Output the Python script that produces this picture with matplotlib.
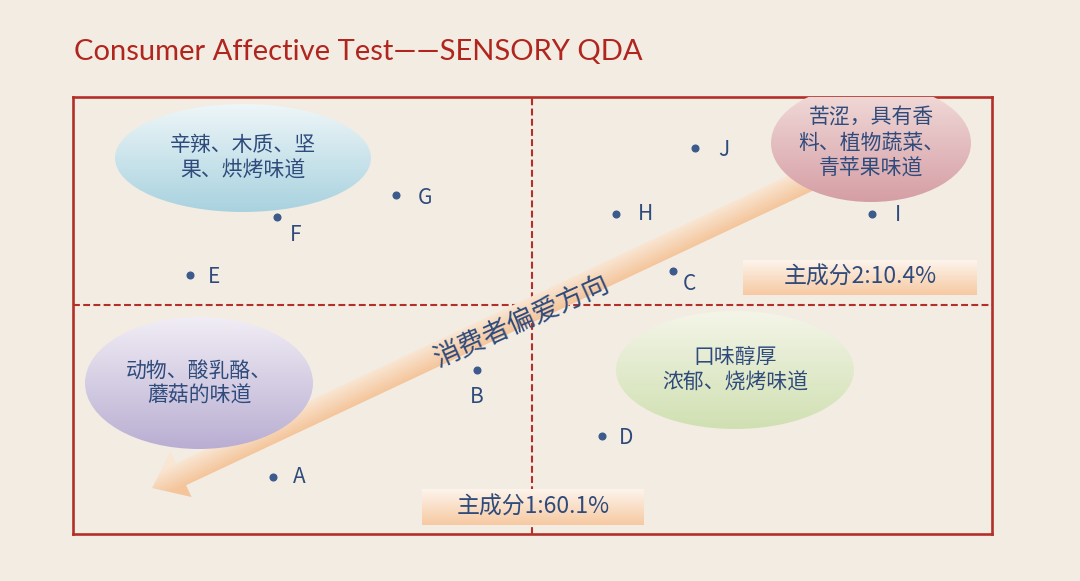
"""Consumer affective test -- sensory QDA preference map (PC1 vs PC2)."""

import numpy as np
import matplotlib
matplotlib.use("Agg")
import matplotlib.pyplot as plt
from matplotlib.patches import Ellipse, Rectangle, FancyArrow
from matplotlib.colors import LinearSegmentedColormap

plt.rcParams["font.family"] = ["Noto Sans CJK SC", "DejaVu Sans"]

# sample scores on the two principal components
samples = ["A", "B", "C", "D", "E", "F", "G", "H", "I", "J"]
pc1 = [-2.59, -0.55, 1.41, 0.70, -3.42, -2.55, -1.36, 0.84, 3.40, 1.63]
pc2 = [-1.72, -0.65, 0.34, -1.31, 0.30, 0.88, 1.10, 0.91, 0.91, 1.57]

# flavour clusters
cluster_text = ["辛辣、木质、坚\n果、烘烤味道",
                "苦涩，具有香\n料、植物蔬菜、\n青苹果味道",
                "动物、酸乳酪、\n蘑菇的味道",
                "口味醇厚\n浓郁、烧烤味道"]
cluster_xy = [(-2.89, 1.47), (3.39, 1.62), (-3.33, -0.78), (2.03, -0.65)]
cluster_wh = [(2.56, 1.08), (2.00, 1.18), (2.28, 1.32), (2.38, 1.18)]
cluster_colors = [("#eef6f8", "#a8d2df"), ("#f3dedc", "#d59ea5"),
                  ("#f1edf5", "#b9aed2"), ("#f4f5e8", "#d0e0b2")]

pc1_label = "主成分1:60.1%"
pc2_label = "主成分2:10.4%"
pref_label = "消费者偏爱方向"

BG = "#f3ece2"
RED = "#b3302a"
BLUE = "#2f4b7c"
W = "medium"

# label offsets (pixels) relative to each point
offsets = {"A": (26, 0), "B": (0, -27), "C": (16, -13), "D": (24, -2),
           "E": (24, -2), "F": (19, -18), "G": (29, -3), "H": (29, 0),
           "I": (26, -1), "J": (29, -2)}

XLIM = (-4.59, 4.60)
YLIM = (-2.29, 2.08)


def grad_fill(ax, patch, extent, c_low, c_high, zorder, values=None):
    """Fill a patch with a bottom-to-top gradient (or a custom value grid)."""
    patch.set_facecolor("none")
    patch.set_edgecolor("none")
    patch.set_clip_on(False)
    ax.add_patch(patch)
    cmap = LinearSegmentedColormap.from_list("g", [c_low, c_high])
    if values is None:
        values = np.linspace(0, 1, 256).reshape(-1, 1)
    im = ax.imshow(values, cmap=cmap, extent=extent, origin="lower",
                   aspect="auto", zorder=zorder, vmin=0, vmax=1,
                   interpolation="bilinear")
    im.set_clip_path(patch)
    im.set_clip_box(None)
    return im


fig = plt.figure(figsize=(10.8, 5.81), dpi=100, facecolor=BG)
ax = fig.add_axes([73 / 1080, 47 / 581, 919 / 1080, 437 / 581])
ax.set_facecolor(BG)
for s in ax.spines.values():
    s.set_color(RED)
    s.set_linewidth(1.9)
ax.set_xticks([])
ax.set_yticks([])

ax.axhline(0, color=RED, lw=1.5, ls=(0, (3.3, 1.6)), zorder=1)
ax.axvline(0, color=RED, lw=1.5, ls=(0, (3.3, 1.6)), zorder=1)

# preference arrow
tail = np.array([3.18, 1.45])
tip = np.array([-3.80, -1.83])
d = tip - tail
arrow = FancyArrow(tail[0], tail[1], d[0], d[1], width=0.24, head_width=0.5,
                   head_length=0.32, length_includes_head=True)
u = d / np.hypot(*d)
n = np.array([-u[1], u[0]])  # normal (points to lower side)
x0, x1 = tip[0] - 0.3, tail[0] + 0.1
y0, y1 = tip[1] - 0.3, tail[1] + 0.2
gx, gy = np.meshgrid(np.linspace(x0, x1, 400), np.linspace(y0, y1, 300))
proj = (gx - tail[0]) * n[0] + (gy - tail[1]) * n[1]
vals = np.clip((proj + 0.12) / 0.24, 0, 1)
if n[1] > 0:
    vals = 1 - vals
grad_fill(ax, arrow, [x0, x1, y0, y1], "#f9e6d3", "#f4c59b", 3, values=vals)
ang = np.degrees(np.arctan2(d[1], d[0])) + 180
ax.text(-0.09, -0.17, pref_label, rotation=ang - 1, rotation_mode="anchor",
        ha="center", va="center", fontsize=19.5, color=BLUE, weight=W,
        zorder=6)

# flavour ellipses
for txt, (cx, cy), (w, h), (ctop, cbot) in zip(cluster_text, cluster_xy,
                                               cluster_wh, cluster_colors):
    e = Ellipse((cx, cy), w, h)
    grad_fill(ax, e, [cx - w / 2, cx + w / 2, cy - h / 2, cy + h / 2],
              cbot, ctop, 4)
    ax.text(cx, cy, txt, ha="center", va="center", fontsize=15,
            color=BLUE, linespacing=1.2, weight=W, zorder=5)

# principal component variance boxes
for (bx, by, bw, bh), lab in [((2.11, 0.10, 2.34, 0.35), pc2_label),
                              ((-1.10, -2.20, 2.22, 0.35), pc1_label)]:
    r = Rectangle((bx, by), bw, bh)
    grad_fill(ax, r, [bx, bx + bw, by, by + bh], "#f6c9a1", "#fdf4ec", 4)
    ax.text(bx + bw / 2, by + bh / 2, lab, ha="center", va="center",
            fontsize=16.5, color=BLUE, weight=W, zorder=5)

# sample points
ax.plot(pc1, pc2, "o", ms=4.8, color="#3c5a8c", zorder=7)
for s, x, y in zip(samples, pc1, pc2):
    ax.annotate(s, (x, y), xytext=offsets[s], textcoords="offset pixels",
                ha="center", va="center", fontsize=15, color=BLUE, weight=W,
                zorder=7)

ax.set_xlim(*XLIM)
ax.set_ylim(*YLIM)

fig.text(74 / 1080, 1 - 60 / 581, "Consumer Affective Test——SENSORY QDA",
         family=["Lato", "DejaVu Sans"], fontsize=21, color="#b0261f",
         ha="left", va="baseline")

fig.savefig("out.png", dpi=100, facecolor=BG)
